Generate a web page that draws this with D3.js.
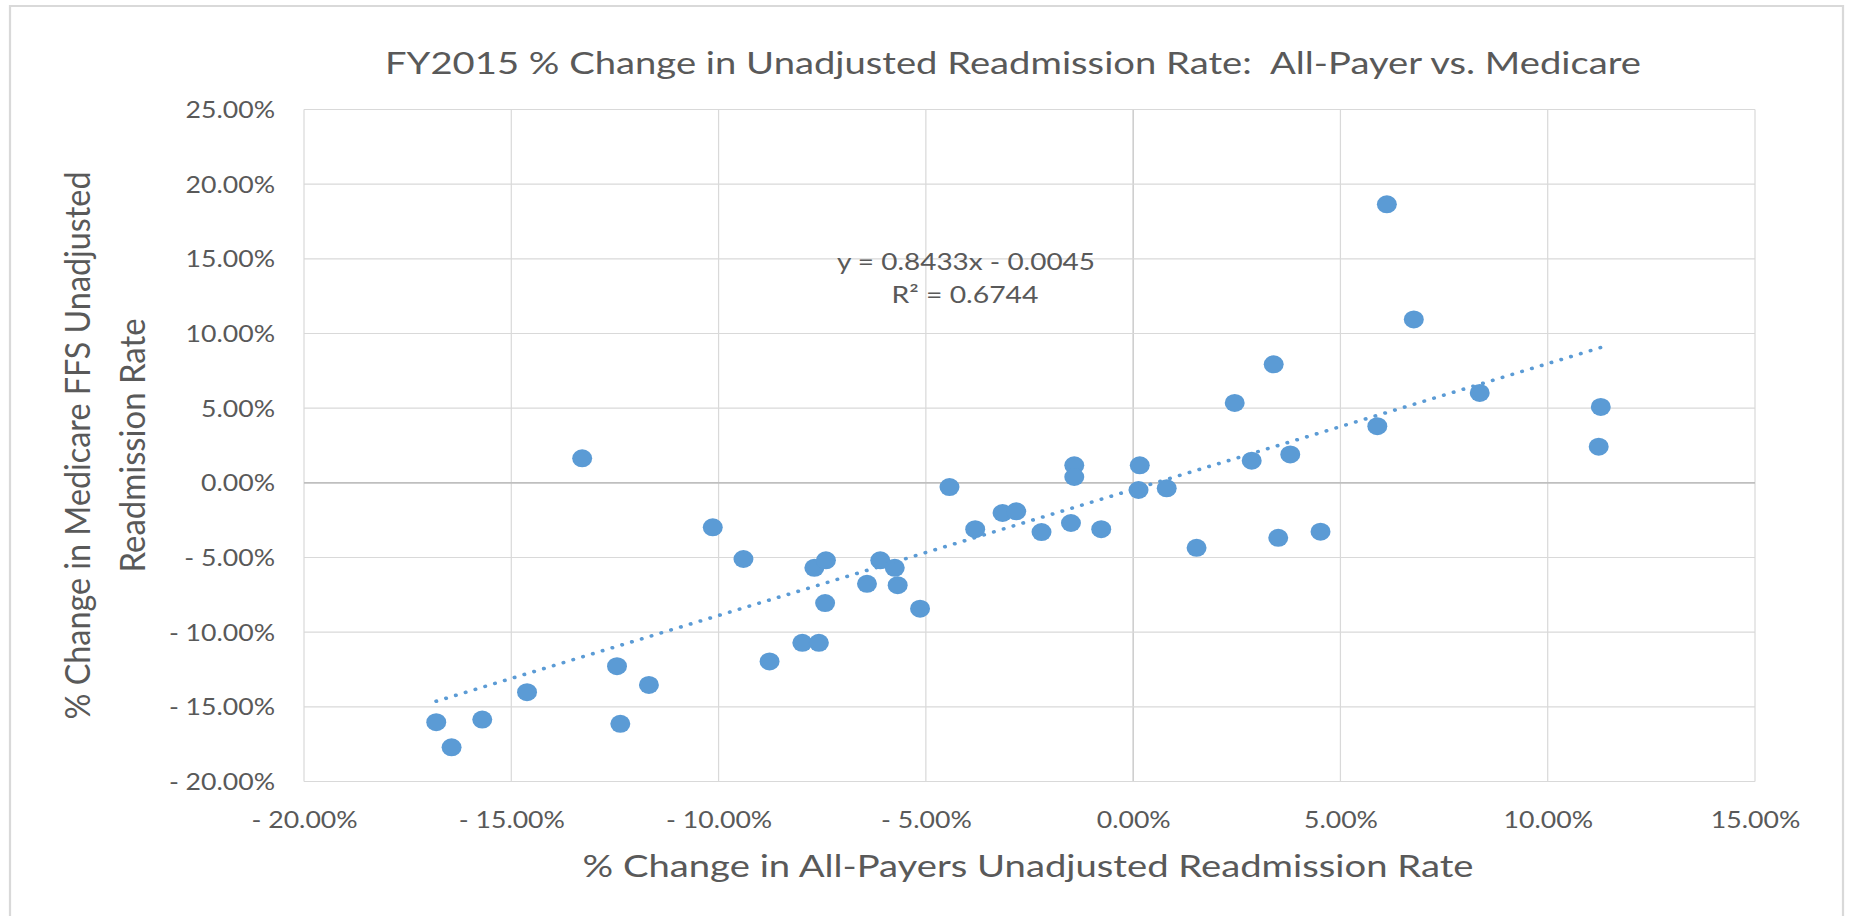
<!DOCTYPE html>
<html>
<head>
<meta charset="utf-8">
<script src="https://cdn.jsdelivr.net/npm/d3@7"></script>
<style>
  html, body { margin: 0; padding: 0; background: #ffffff; }
  svg { display: block; }
  text { font-family: Lato, "Open Sans", sans-serif; fill: #595959; white-space: pre; }
</style>
</head>
<body>
<svg id="chart"></svg>
<script>
// ---- data (fractions) ----
const allPayerChange = [
  -0.1681, -0.1644, -0.1570, -0.1462, -0.1329, -0.1245, -0.1237, -0.1168,
  -0.1014, -0.0940, -0.0877, -0.0798, -0.0758, -0.0769, -0.0741, -0.0743,
  -0.0642, -0.0610, -0.0575, -0.0568, -0.0514, -0.0443, -0.0381, -0.0315,
  -0.0282, -0.0221, -0.0150, -0.0142, -0.0142, -0.0077, 0.0016, 0.0013,
  0.0081, 0.0153, 0.0245, 0.0286, 0.0339, 0.0350, 0.0379, 0.0452,
  0.0589, 0.0612, 0.0677, 0.0836, 0.1128, 0.1123
];
const medicareChange = [
  -0.1603, -0.1771, -0.1585, -0.1402, 0.0164, -0.1228, -0.1614, -0.1353,
  -0.0298, -0.0510, -0.1196, -0.1071, -0.1071, -0.0569, -0.0519, -0.0805,
  -0.0676, -0.0519, -0.0569, -0.0685, -0.0843, -0.0028, -0.0310, -0.0202,
  -0.0191, -0.0330, -0.0269, 0.0117, 0.0039, -0.0310, 0.0117, -0.0048,
  -0.0037, -0.0435, 0.0535, 0.0148, 0.0794, -0.0368, 0.0190, -0.0327,
  0.0379, 0.1865, 0.1094, 0.0602, 0.0508, 0.0242
];
const xTicks = [-0.20, -0.15, -0.10, -0.05, 0.00, 0.05, 0.10, 0.15];
const yTicks = [-0.20, -0.15, -0.10, -0.05, 0.00, 0.05, 0.10, 0.15, 0.20, 0.25];
const trendSlope = 0.8433;
const trendIntercept = -0.0045;
const rSquared = 0.6744;
const titleText = "FY2015 % Change in Unadjusted Readmission Rate:  All-Payer vs. Medicare";
const xAxisTitle = "% Change in All-Payers Unadjusted Readmission Rate";
const yAxisTitleLines = ["% Change in Medicare FFS Unadjusted", "Readmission Rate"];

// ---- layout (the reference picture is stretched horizontally) ----
const pageW = 1849, pageH = 916;
const stretch = 1.11;
const W = pageW / stretch, H = pageH;
const fx = v => v / stretch; // full-pixel x -> view units

const svg = d3.select("#chart")
  .attr("width", pageW).attr("height", pageH)
  .attr("viewBox", `0 0 ${W} ${H}`)
  .attr("preserveAspectRatio", "none");

const plot = { left: fx(304), right: fx(1755), top: 109.5, bottom: 781.5 };

const x = d3.scaleLinear().domain([-0.20, 0.15]).range([plot.left, plot.right]);
const y = d3.scaleLinear().domain([-0.20, 0.25]).range([plot.bottom, plot.top]);

const pct = d3.format(".2%");
const fmt = v => (v < -1e-9 ? "- " + pct(-v) : pct(Math.abs(v)));

// chart border
svg.append("rect")
  .attr("x", fx(10)).attr("y", 6)
  .attr("width", fx(1843) - fx(10)).attr("height", H + 20)
  .attr("fill", "none").attr("stroke", "#d9d9d9").attr("stroke-width", 2);

// gridlines
const grid = svg.append("g");
grid.selectAll("line.v").data(xTicks).join("line")
  .attr("x1", d => x(d)).attr("x2", d => x(d))
  .attr("y1", plot.top).attr("y2", plot.bottom)
  .attr("stroke", d => Math.abs(d) < 1e-9 ? "#bfbfbf" : "#d9d9d9")
  .attr("stroke-width", 1.1);
grid.selectAll("line.h").data(yTicks).join("line")
  .attr("x1", plot.left).attr("x2", plot.right)
  .attr("y1", d => y(d)).attr("y2", d => y(d))
  .attr("stroke", d => Math.abs(d) < 1e-9 ? "#bfbfbf" : "#d9d9d9")
  .attr("stroke-width", d => Math.abs(d) < 1e-9 ? 1.6 : 1.1);

// axes (labels only)
const yAxis = d3.axisLeft(y).tickValues(yTicks).tickFormat(fmt).tickSize(0).tickPadding(0);
const yg = svg.append("g").attr("transform", `translate(${fx(275)},0)`).call(yAxis);
yg.select(".domain").remove();
yg.selectAll("text").attr("font-size", 24).attr("fill", "#595959")
  .attr("font-family", "Lato, 'Open Sans', sans-serif").attr("dy", "0.34em").attr("x", 0);

const xAxis = d3.axisBottom(x).tickValues(xTicks).tickFormat(fmt).tickSize(0).tickPadding(0);
const xg = svg.append("g").attr("transform", `translate(0,${828.3})`).call(xAxis);
xg.select(".domain").remove();
xg.selectAll("text").attr("font-size", 24).attr("fill", "#595959")
  .attr("font-family", "Lato, 'Open Sans', sans-serif").attr("dy", 0).attr("y", 0);

// points
const pts = allPayerChange.map((d, i) => ({ x: d, y: medicareChange[i] }));
svg.append("g").selectAll("circle").data(pts).join("circle")
  .attr("cx", d => x(d.x)).attr("cy", d => y(d.y)).attr("r", 9)
  .attr("fill", "#5b9bd5");

// trendline
const xMin = d3.min(allPayerChange), xMax = d3.max(allPayerChange);
const trend = [xMin, xMax].map(v => ({ x: v, y: trendSlope * v + trendIntercept }));
svg.append("path")
  .attr("d", d3.line().x(d => x(d.x)).y(d => y(d.y))(trend))
  .attr("fill", "none").attr("stroke", "#5b9bd5").attr("stroke-width", 3.6)
  .attr("stroke-linecap", "round").attr("stroke-dasharray", "0.1 9.2");

// equation label
const eq = svg.append("g").attr("text-anchor", "middle").attr("font-size", 24);
eq.append("text").attr("x", fx(966)).attr("y", 270)
  .attr("textLength", fx(258)).attr("lengthAdjust", "spacingAndGlyphs")
  .text(`y = ${trendSlope.toFixed(4)}x - ${Math.abs(trendIntercept).toFixed(4)}`);
eq.append("text").attr("x", fx(965)).attr("y", 302.7)
  .attr("textLength", fx(147)).attr("lengthAdjust", "spacingAndGlyphs")
  .text(`R² = ${rSquared.toFixed(4)}`);

// title
svg.append("text").attr("x", fx(1013)).attr("y", 74.3)
  .attr("text-anchor", "middle").attr("font-size", 30)
  .attr("textLength", fx(1256)).attr("lengthAdjust", "spacingAndGlyphs")
  .text(titleText);

// x axis title
svg.append("text").attr("x", fx(1028)).attr("y", 876.7)
  .attr("text-anchor", "middle").attr("font-size", 31)
  .attr("textLength", fx(891)).attr("lengthAdjust", "spacingAndGlyphs")
  .text(xAxisTitle);

// y axis title
const yCenter = (plot.top + plot.bottom) / 2;
const yTitleLens = [548, 254];
[fx(90), fx(145)].forEach((bx, i) => {
  svg.append("text")
    .attr("transform", `translate(${bx},${yCenter}) rotate(-90)`)
    .attr("text-anchor", "middle").attr("font-size", 31)
    .attr("textLength", yTitleLens[i]).attr("lengthAdjust", "spacingAndGlyphs")
    .text(yAxisTitleLines[i]);
});
</script>
</body>
</html>
